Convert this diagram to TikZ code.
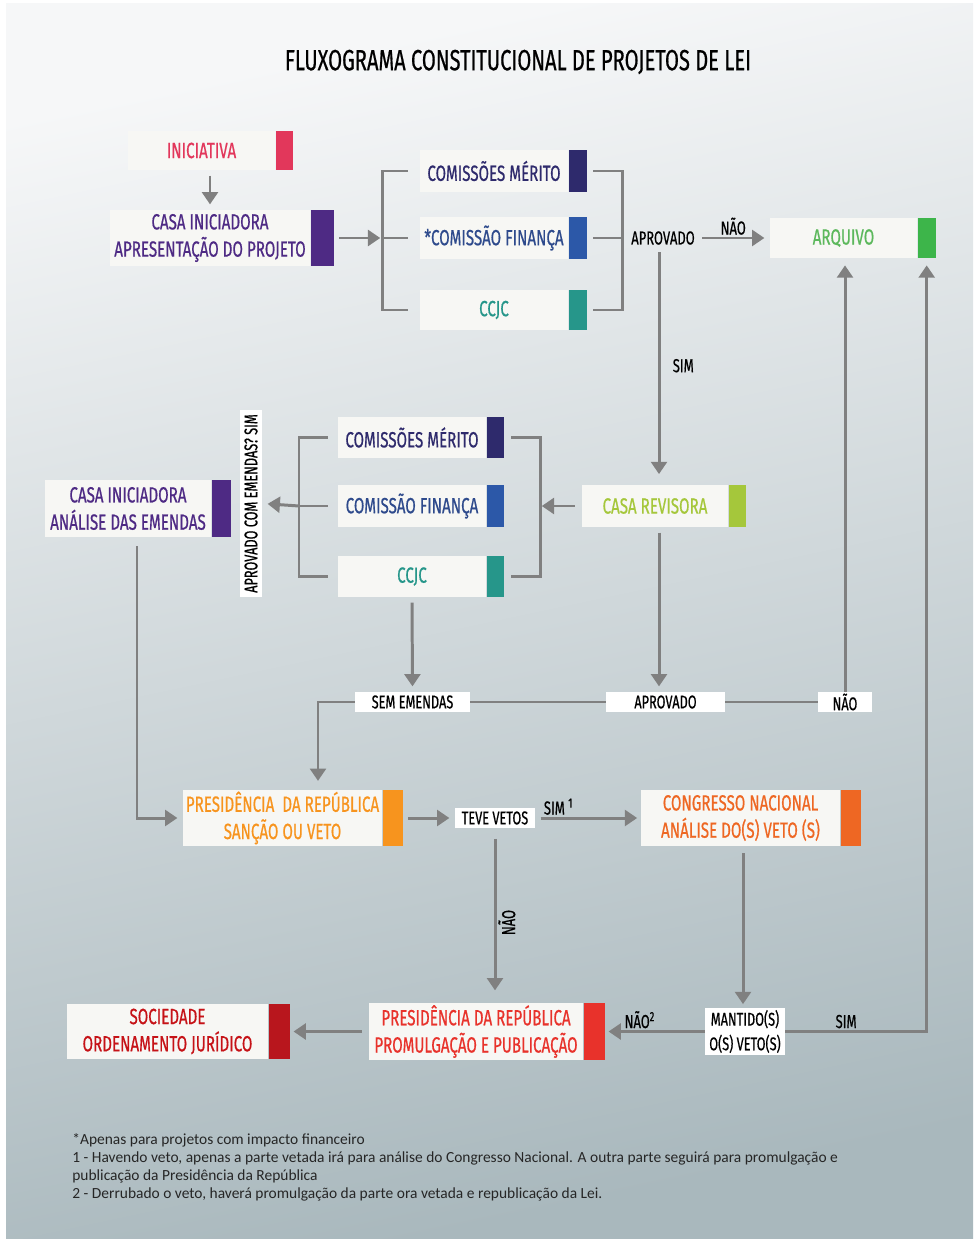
\documentclass[tikz,border=0pt]{standalone}
\usepackage{fontspec}
\setmainfont{Carlito}
\newfontfamily\cond{Fira Sans}[FakeStretch=0.69, FakeBold=0.6]
\usetikzlibrary{arrows.meta,positioning}
\definecolor{cinza}{HTML}{808080}
\definecolor{fundoA}{HTML}{F6F7F8}
\definecolor{fundoB}{HTML}{A9B8BD}
\definecolor{caixabg}{HTML}{F7F7F4}
\definecolor{carmim}{HTML}{E2375B}
\definecolor{roxo}{HTML}{4E2A84}
\definecolor{marinho}{HTML}{2E2A6C}
\definecolor{azul}{HTML}{2C58A8}
\definecolor{azultx}{HTML}{2E4A8C}
\definecolor{verdeazul}{HTML}{26968A}
\definecolor{verde}{HTML}{3DB54A}
\definecolor{verdetx}{HTML}{5CB85C}
\definecolor{lima}{HTML}{A5C73B}
\definecolor{laranja}{HTML}{F7941E}
\definecolor{laranjaesc}{HTML}{EE6723}
\definecolor{vermelho}{HTML}{E8322B}
\definecolor{vinho}{HTML}{B8161D}
\begin{document}
\begin{tikzpicture}[x=0.02cm, y=-0.02cm,
    caixa/.style={fill=caixabg, inner sep=0pt, align=center, font=\cond\fontsize{12.5}{15.5}\selectfont},
    barra/.style={fill=#1, inner sep=0pt},
    rotulo/.style={fill=white, inner sep=0pt, text=black, font=\cond\fontsize{10.5}{12}\selectfont},
    texto/.style={inner sep=1pt, text=black, font=\cond\fontsize{10.7}{12}\selectfont},
    linha/.style={cinza, line width=1.7pt},
    flecha/.style={cinza, line width=1.7pt, -{Triangle[width=9pt,length=7pt]}, shorten <=3pt, shorten >=3pt}]
    \useasboundingbox (0,0) rectangle (973,1239);
    \fill[white] (0,0) rectangle (973,1239);
    \shade[top color=fundoA, bottom color=fundoB, shading angle=12] (6,4) rectangle (973,1239);
    \node[font=\cond\fontsize{16.6}{20}\selectfont] (titulo) at (518,62) {FLUXOGRAMA CONSTITUCIONAL DE PROJETOS DE LEI};

    \node[caixa, text=carmim, minimum width=2.94cm, minimum height=0.78cm] (inic) at (201.5,150.5) {INICIATIVA};
    \node[barra=carmim, minimum width=0.34cm, minimum height=0.78cm, right=0pt of inic] (inicb) {};
    \node[caixa, text=roxo, minimum width=4.0cm, minimum height=1.12cm] (casaini) at (210,238) {CASA INICIADORA\\APRESENTAÇÃO DO PROJETO};
    \node[barra=roxo, minimum width=0.46cm, minimum height=1.12cm, right=0pt of casaini] (casainib) {};

    \node[caixa, text=marinho, minimum width=2.96cm, minimum height=0.84cm] (merito1) at (494,171) {COMISSÕES MÉRITO};
    \node[barra=marinho, minimum width=0.36cm, minimum height=0.84cm, right=0pt of merito1] (merito1b) {};
    \node[caixa, text=azultx, minimum width=2.96cm, minimum height=0.84cm] (financa1) at (494,238) {*COMISSÃO FINANÇA};
    \node[barra=azul, minimum width=0.36cm, minimum height=0.84cm, right=0pt of financa1] (financa1b) {};
    \node[caixa, text=verdeazul, minimum width=2.96cm, minimum height=0.8cm] (ccjc1) at (494,310) {CCJC};
    \node[barra=verdeazul, minimum width=0.36cm, minimum height=0.8cm, right=0pt of ccjc1] (ccjc1b) {};

    \node[texto] (aprov1) at (663,238) {APROVADO};
    \node[caixa, text=verdetx, minimum width=2.94cm, minimum height=0.8cm] (arquivo) at (843.5,238) {ARQUIVO};
    \node[barra=verde, minimum width=0.36cm, minimum height=0.8cm, right=0pt of arquivo] (arquivob) {};

    \node[caixa, text=marinho, minimum width=2.96cm, minimum height=0.82cm] (merito2) at (412,437.5) {COMISSÕES MÉRITO};
    \node[barra=marinho, minimum width=0.34cm, minimum height=0.82cm, right=0pt of merito2] (merito2b) {};
    \node[caixa, text=azultx, minimum width=2.96cm, minimum height=0.84cm] (financa2) at (412,506) {COMISSÃO FINANÇA};
    \node[barra=azul, minimum width=0.34cm, minimum height=0.84cm, right=0pt of financa2] (financa2b) {};
    \node[caixa, text=verdeazul, minimum width=2.96cm, minimum height=0.82cm] (ccjc2) at (412,576.5) {CCJC};
    \node[barra=verdeazul, minimum width=0.34cm, minimum height=0.82cm, right=0pt of ccjc2] (ccjc2b) {};

    \node[caixa, text=lima, minimum width=2.92cm, minimum height=0.84cm] (casarev) at (655,506) {CASA REVISORA};
    \node[barra=lima, minimum width=0.34cm, minimum height=0.84cm, right=0pt of casarev] (casarevb) {};
    \node[rotulo, rotate=90, minimum width=3.74cm, minimum height=0.44cm] (emendas) at (251,503.5) {APROVADO COM EMENDAS? SIM};
    \node[caixa, text=roxo, minimum width=3.32cm, minimum height=1.14cm] (casaemend) at (128,508.5) {CASA INICIADORA\\ANÁLISE DAS EMENDAS};
    \node[barra=roxo, minimum width=0.38cm, minimum height=1.14cm, right=0pt of casaemend] (casaemendb) {};

    \node[rotulo, minimum width=2.3cm, minimum height=0.4cm] (semem) at (412.5,702) {SEM EMENDAS};
    \node[rotulo, minimum width=2.38cm, minimum height=0.4cm] (aprov2) at (665.5,702) {APROVADO};
    \node[rotulo, minimum width=1.08cm, minimum height=0.4cm] (nao3) at (845,702) {NÃO};

    \node[caixa, text=laranja, minimum width=3.98cm, minimum height=1.12cm] (presid1) at (282.5,818) {PRESIDÊNCIA \ DA REPÚBLICA\\SANÇÃO OU VETO};
    \node[barra=laranja, minimum width=0.4cm, minimum height=1.12cm, right=0pt of presid1] (presid1b) {};
    \node[rotulo, minimum width=1.6cm, minimum height=0.4cm] (teve) at (495,818) {TEVE VETOS};
    \node[caixa, text=laranjaesc, minimum width=3.98cm, minimum height=1.12cm] (congresso) at (740.5,818) {CONGRESSO NACIONAL\\ANÁLISE DO(S) VETO (S)};
    \node[barra=laranjaesc, minimum width=0.4cm, minimum height=1.12cm, right=0pt of congresso] (congressob) {};

    \node[rotulo, align=center, minimum width=1.6cm, minimum height=0.94cm, font=\cond\fontsize{10.5}{14}\selectfont] (mantido) at (745,1031.5) {MANTIDO(S)\\O(S) VETO(S)};
    \node[caixa, text=vermelho, minimum width=4.28cm, minimum height=1.14cm] (presid2) at (476,1031.5) {PRESIDÊNCIA DA REPÚBLICA\\PROMULGAÇÃO E PUBLICAÇÃO};
    \node[barra=vermelho, minimum width=0.42cm, minimum height=1.14cm, right=0pt of presid2] (presid2b) {};
    \node[caixa, text=vinho!80!red, minimum width=4.02cm, minimum height=1.1cm] (sociedade) at (167.5,1031.5) {SOCIEDADE\\ORDENAMENTO JURÍDICO};
    \node[barra=vinho, minimum width=0.42cm, minimum height=1.1cm, right=0pt of sociedade] (sociedadeb) {};

    \coordinate (ch1) at (382,238);
    \coordinate (ch2) at (622,238);
    \coordinate (ch3) at (299,506);
    \coordinate (ch4) at (540,506);

    \draw[flecha] (inic.south -| casaini.north) -- (casaini.north);
    \draw[flecha, shorten >=1pt] (casainib.east) -- (ch1);
    \draw[linha] ([xshift=-0.24cm]merito1.west) -- (merito1.west -| ch1) -- (ccjc1.west -| ch1) -- ([xshift=-0.24cm]ccjc1.west);
    \draw[linha] (ch1) -- ([xshift=-0.24cm]financa1.west);
    \draw[linha] ([xshift=0.12cm]merito1b.east) -- (merito1b.east -| ch2) -- (ccjc1b.east -| ch2) -- ([xshift=0.12cm]ccjc1b.east);
    \draw[linha] ([xshift=0.12cm]financa1b.east) -- (ch2);
    \draw[flecha] (aprov1.east) -- node[texto, above] {NÃO} (arquivo.west);
    \draw[flecha, shorten >=6pt] ([xshift=-0.08cm]aprov1.south) -- node[texto, right=6pt] {SIM} ([xshift=-0.08cm]aprov1.south |- casarev.north);

    \draw[flecha, shorten >=1pt, shorten <=4pt] (casarev.west) -- (ch4);
    \draw[linha] ([xshift=0.14cm]merito2b.east) -- (merito2b.east -| ch4) -- (ccjc2b.east -| ch4) -- ([xshift=0.14cm]ccjc2b.east);
    \draw[linha] ([xshift=-0.2cm]merito2.west) -- (merito2.west -| ch3) -- (ccjc2.west -| ch3) -- ([xshift=-0.2cm]ccjc2.west);
    \draw[linha] (ch3) -- ([xshift=-0.2cm]financa2.west);
    \draw[flecha, shorten <=0pt] (ch3) -- (emendas.south);

    \draw[flecha, shorten <=5pt] ([xshift=0.18cm]casaemend.south) |- (presid1.west);
    \draw[flecha] (ccjc2.south) -- (semem.north);
    \draw[flecha] ([xshift=-0.08cm]aprov1.south |- casarev.south) -- ([xshift=-0.08cm]aprov1.south |- aprov2.north);
    \draw[linha] (semem.east) -- (aprov2.west);
    \draw[linha] (aprov2.east) -- (nao3.west);
    \draw[flecha, shorten <=0pt, shorten >=4pt] (nao3.north) -- (nao3.north |- arquivo.south);
    \draw[flecha, shorten <=0pt, shorten >=5pt] (semem.west) -| ([xshift=0.71cm]presid1.north);

    \draw[flecha] (presid1b.east) -- (teve.west);
    \draw[flecha, shorten >=2pt] (teve.east) -- node[texto, above, pos=0.22] {SIM \textsuperscript{1}} (congresso.west);
    \draw[flecha, shorten <=6pt, shorten >=7pt] (teve.south) -- node[texto, rotate=90, below=4pt] {NÃO} (teve.south |- presid2.north);
    \draw[flecha, shorten <=4pt, shorten >=2pt] ([xshift=0.05cm]congresso.south) -- ([xshift=0.05cm]congresso.south |- mantido.north);
    \draw[flecha, shorten <=0pt, shorten >=4pt] (mantido.east) -| node[texto, above, pos=0.215] {SIM} (arquivob.south);
    \draw[flecha, shorten <=0pt, shorten >=2pt] (mantido.west) -- node[texto, above, pos=0.65] {NÃO\textsuperscript{2}} (presid2b.east);
    \draw[flecha, shorten <=4pt, shorten >=2pt] (presid2.west) -- (sociedadeb.east);

    \node[anchor=west, align=left, inner sep=0pt, font=\fontsize{8.8}{10.2}\selectfont, text=black!85] (notas) at (72,1167) {*Apenas para projetos com impacto financeiro\\1 - Havendo veto, apenas a parte vetada irá para análise do Congresso Nacional. A outra parte seguirá para promulgação e\\publicação da Presidência da República\\2 - Derrubado o veto, haverá promulgação da parte ora vetada e republicação da Lei.};
\end{tikzpicture}
\end{document}
